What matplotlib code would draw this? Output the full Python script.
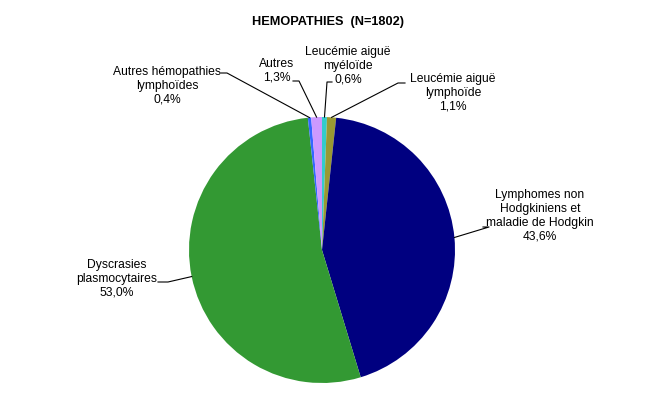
import numpy as np
import matplotlib
matplotlib.use("Agg")
import matplotlib.pyplot as plt

# ---------------------------------------------------------------
# data
# ---------------------------------------------------------------
categories = [
    "Leucémie aiguë\nmyéloïde",
    "Leucémie aiguë\nlymphoïde",
    "Lymphomes non\nHodgkiniens et\nmaladie de Hodgkin",
    "Dyscrasies\nplasmocytaires",
    "Autres hémopathies\nlymphoïdes",
    "Autres",
]
percents = [0.6, 1.1, 43.6, 53.0, 0.4, 1.3]
title = "HEMOPATHIES  (N=1802)"

# ---------------------------------------------------------------
# layout (pixel coords of the 645x405 picture, y from top)
# ---------------------------------------------------------------
colors = ["#33CCCC", "#999933", "#000080", "#339933", "#3366FF", "#CC99FF"]
W, H = 645, 405
CX, CY, R = 322, 250, 133
# text centre, elbow point, end of horizontal tick
label_pos = [(348, 66), (453, 93), (540, 216), (117, 279), (167, 86), (277, 71)]
elbow = [(327, 82), (398, 83), (489, 227), (168, 282), (227, 73), (299, 81)]
tick_end = [(332, 82), (405, 83), (483, 227), (158, 282), (221, 73), (293, 81)]

plt.rcParams["font.family"] = ["Liberation Sans", "DejaVu Sans"]

fig = plt.figure(figsize=(W / 100, H / 100), dpi=100)
ax = fig.add_axes([0, 0, 1, 1])

wedges, _ = ax.pie(percents, colors=colors, startangle=90, counterclock=False,
                   center=(CX, H - CY), radius=R, frame=True,
                   wedgeprops=dict(linewidth=0))
ax.set_xlim(0, W)
ax.set_ylim(0, H)
ax.set_aspect("equal")
ax.axis("off")

for w, name, p, lp, el, te in zip(wedges, categories, percents, label_pos, elbow, tick_end):
    mid = np.deg2rad((w.theta1 + w.theta2) / 2)
    ex = CX + R * np.cos(mid)
    ey = (H - CY) + R * np.sin(mid)
    ax.plot([ex, el[0], te[0]], [ey, H - el[1], H - te[1]], color="black", lw=0.8, zorder=1)
    txt = name + "\n" + f"{p:.1f}".replace(".", ",") + "%"
    ax.text(lp[0], H - lp[1], txt, ha="center", va="center", fontsize=8.7,
            linespacing=1.2, zorder=3)

ax.text(328, H - 22, title, ha="center", va="center", fontsize=9.2, fontweight="bold")

fig.savefig("out.png", dpi=100)
